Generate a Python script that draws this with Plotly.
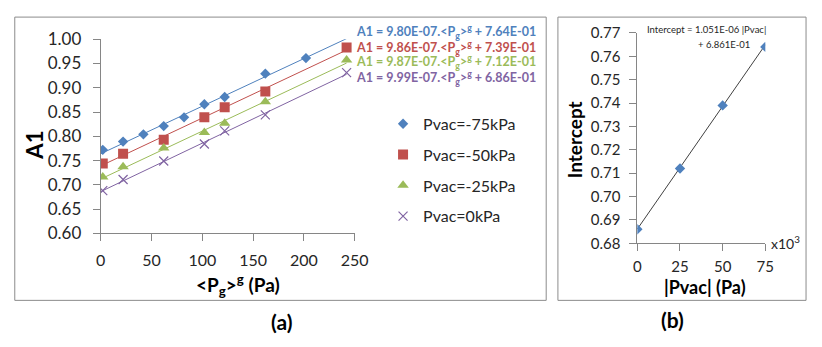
import plotly.graph_objects as go

W, H = 822, 347

# ---- panel (a): A1 versus mean gas pressure, one series per vacuum level ----
series_names = ["Pvac=-75kPa", "Pvac=-50kPa", "Pvac=-25kPa", "Pvac=0kPa"]
pg_m75 = [2, 22, 42, 62, 82, 102, 122, 162, 202]
a1_m75 = [0.772, 0.789, 0.804, 0.821, 0.839, 0.866, 0.881, 0.929, 0.961]
pg_m50 = [2, 22, 62, 102, 122, 162, 242]
a1_m50 = [0.744, 0.764, 0.793, 0.839, 0.860, 0.892, 0.983]
pg_m25 = [2, 22, 62, 102, 122, 162, 242]
a1_m25 = [0.716, 0.737, 0.776, 0.808, 0.827, 0.871, 0.957]
pg_0 = [2, 22, 62, 102, 122, 162, 242]
a1_0 = [0.688, 0.711, 0.749, 0.784, 0.811, 0.844, 0.931]

# linear fits as printed in the equations (slope expressed per mPa)
fit_slopes = [9.80e-07, 9.86e-07, 9.87e-07, 9.99e-07]
fit_intercepts = [0.764, 0.739, 0.712, 0.686]
slope_labels = ["9.80E-07", "9.86E-07", "9.87E-07", "9.99E-07"]
intercept_labels = ["7.64E-01", "7.39E-01", "7.12E-01", "6.86E-01"]
MPA_PER_PA = 1e3
fit_x_range = [0, 242]

# ---- panel (b): fitted intercept versus |Pvac| ----
pvac_k = [0, 25, 50, 75]          # x10^3 Pa
intercept_vals = [0.686, 0.712, 0.739, 0.764]
b_slope, b_intercept = 1.051e-06, 0.6861

colors = ["#4F81BD", "#C0504D", "#9BBB59", "#8064A2"]
symbols = ["diamond", "square", "triangle-up", "x-thin-open"]
sizes = [8, 10, 10, 9]
FONT = "Lato"
AX = "#868686"


def px(x):
    return x / W


def py(y):
    return 1 - y / H


fig = go.Figure()

xs_all = [pg_m75, pg_m50, pg_m25, pg_0]
ys_all = [a1_m75, a1_m50, a1_m25, a1_0]
for i in range(4):
    m = fit_slopes[i] * MPA_PER_PA
    fig.add_trace(go.Scatter(
        x=fit_x_range, y=[fit_intercepts[i] + m * v for v in fit_x_range],
        mode="lines", line=dict(color=colors[i], width=1),
        showlegend=False, hoverinfo="skip", xaxis="x", yaxis="y"))
for i in range(4):
    mk = dict(color=colors[i], size=sizes[i], symbol=symbols[i])
    if symbols[i] == "x-thin-open":
        mk["line"] = dict(color=colors[i], width=1.2)
    fig.add_trace(go.Scatter(
        x=xs_all[i], y=ys_all[i], mode="markers", marker=mk,
        name=series_names[i], legendgroup=str(i), xaxis="x", yaxis="y"))

fig.add_trace(go.Scatter(
    x=[0, 75], y=[b_intercept + b_slope * v * 1e3 for v in [0, 75]],
    mode="lines", line=dict(color="#404040", width=1),
    showlegend=False, xaxis="x2", yaxis="y2"))
fig.add_trace(go.Scatter(
    x=pvac_k, y=intercept_vals, mode="markers",
    marker=dict(color="#4F81BD", size=8, symbol="diamond"),
    showlegend=False, xaxis="x2", yaxis="y2"))

axis_common = dict(showgrid=False, zeroline=False, showline=True, linecolor=AX,
                   linewidth=1, ticks="outside", tickcolor=AX, ticklen=7,
                   tickfont=dict(family=FONT, color="#262626"))

fig.update_layout(
    width=W, height=H, margin=dict(l=0, r=0, t=0, b=0),
    paper_bgcolor="white", plot_bgcolor="white",
    font=dict(family=FONT, color="#262626"),
    xaxis=dict(axis_common, domain=[px(98), px(358)], range=[0, 250], dtick=50,
               tickfont=dict(family=FONT, size=16, color="#262626"), anchor="y",
               ticklabelstandoff=5),
    yaxis=dict(axis_common, domain=[py(236.7), py(30)], range=[0.6, 1.0], dtick=0.05,
               tickformat=".2f", tickfont=dict(family=FONT, size=17, color="#262626"),
               anchor="x", ticklabelstandoff=8),
    xaxis2=dict(axis_common, domain=[px(647.3), px(778.3)], range=[0, 75], dtick=25,
                tickfont=dict(family=FONT, size=15, color="#262626"), anchor="y2",
                ticklabelstandoff=3),
    yaxis2=dict(axis_common, domain=[py(247.3), py(23.3)], range=[0.68, 0.77], dtick=0.01,
                tickformat=".2f", tickfont=dict(family=FONT, size=15, color="#262626"),
                anchor="x2", ticklabelstandoff=6),
    legend=dict(x=px(387), y=py(102), xanchor="left", yanchor="top",
                font=dict(family=FONT, size=16, color="#262626"),
                traceorder="grouped", tracegroupgap=7, itemwidth=30,
                bgcolor="rgba(0,0,0,0)"),
)

# panel frames
for x0, x1 in [(10, 554), (566, 820)]:
    fig.add_shape(type="rect", xref="paper", yref="paper",
                  x0=px(x0), x1=px(x1), y0=py(308), y1=py(6.5),
                  line=dict(color="#8c8c8c", width=1))

ann = []
eq_y = [21.7, 39.3, 53.3, 71]
for i in range(4):
    ann.append(dict(
        text=f"<b>A1 = {slope_labels[i]}.&lt;P<sub>g</sub>&gt;<sup>g</sup> + {intercept_labels[i]}</b>",
        x=px(357), y=py(eq_y[i]), xanchor="left", yanchor="middle",
        font=dict(family=FONT, size=12.5, color=colors[i])))

ann += [
    dict(text="<b>A1</b>", x=px(30), y=py(143), textangle=-90,
         font=dict(family=FONT, size=22, color="black")),
    dict(text="<b>&lt;P<sub>g</sub>&gt;<sup>g</sup> (Pa)</b>", x=px(239), y=py(292),
         font=dict(family=FONT, size=19, color="black")),
    dict(text="<b>(a)</b>", x=px(283), y=py(330),
         font=dict(family=FONT, size=21, color="black")),
    dict(text="<b>Intercept</b>", x=px(583), y=py(137), textangle=-90,
         font=dict(family=FONT, size=19, color="black")),
    dict(text="<b>|Pvac| (Pa)</b>", x=px(717), y=py(294),
         font=dict(family=FONT, size=18, color="black")),
    dict(text="<b>(b)</b>", x=px(683), y=py(328),
         font=dict(family=FONT, size=21, color="black")),
    dict(text="x10<sup>3</sup>", x=px(782), y=py(246), xanchor="left",
         font=dict(family=FONT, size=14, color="#262626")),
    dict(text="Intercept = 1.051E-06 |Pvac|", x=px(655), y=py(20), xanchor="left",
         font=dict(family=FONT, size=9.5, color="#262626")),
    dict(text="+ 6.861E-01", x=px(707), y=py(36), xanchor="left",
         font=dict(family=FONT, size=9.5, color="#262626")),
]
for a in ann:
    a.setdefault("xanchor", "center")
    a.setdefault("yanchor", "middle")
    a.update(xref="paper", yref="paper", showarrow=False)
fig.update_layout(annotations=ann)

fig.write_html("out.html")
